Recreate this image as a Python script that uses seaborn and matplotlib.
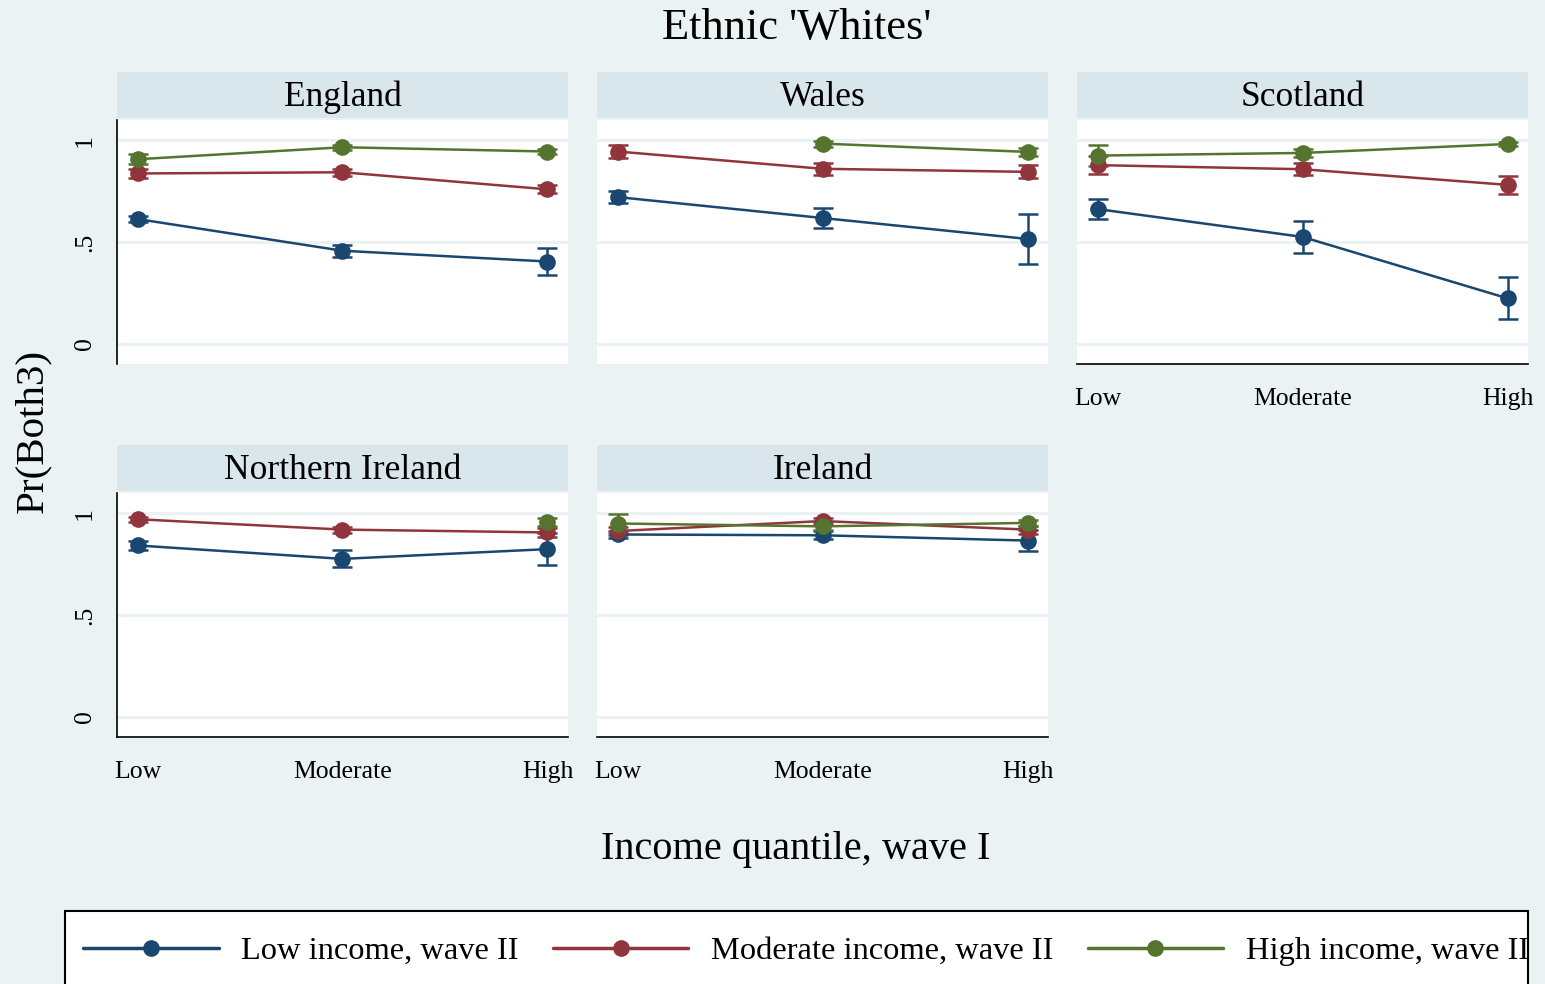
import matplotlib
matplotlib.use("Agg")
import matplotlib.pyplot as plt
from matplotlib.lines import Line2D
from matplotlib.patches import Rectangle
import numpy as np
import pandas as pd
import seaborn as sns

# data
levels = ["Low", "Moderate", "High"]
series = ["Low income, wave II", "Moderate income, wave II", "High income, wave II"]
regions = ["England", "Wales", "Scotland", "Northern Ireland", "Ireland"]

# point estimates: one row per series (low, moderate, high income wave II)
england_est = [[0.613, 0.457, 0.404], [0.837, 0.843, 0.759], [0.907, 0.966, 0.945]]
england_err = [[0.015, 0.030, 0.065], [0.020, 0.018, 0.020], [0.025, 0.012, 0.012]]
wales_est = [[0.721, 0.618, 0.515], [0.945, 0.860, 0.845], [np.nan, 0.984, 0.943]]
wales_err = [[0.030, 0.050, 0.125], [0.030, 0.030, 0.032], [np.nan, 0.015, 0.018]]
scotland_est = [[0.662, 0.525, 0.223], [0.878, 0.858, 0.781], [0.925, 0.938, 0.982]]
scotland_err = [[0.050, 0.080, 0.104], [0.044, 0.030, 0.046], [0.052, 0.020, 0.012]]
nireland_est = [[0.842, 0.776, 0.824], [0.971, 0.920, 0.906], [np.nan, np.nan, 0.958]]
nireland_err = [[0.020, 0.042, 0.077], [0.012, 0.015, 0.020], [np.nan, np.nan, 0.020]]
ireland_est = [[0.896, 0.892, 0.866], [0.913, 0.962, 0.920], [0.950, 0.936, 0.953]]
ireland_err = [[0.015, 0.020, 0.050], [0.020, 0.015, 0.020], [0.046, 0.020, 0.015]]

estimates = [england_est, wales_est, scotland_est, nireland_est, ireland_est]
errors = [england_err, wales_err, scotland_err, nireland_err, ireland_err]

rows = []
for reg, est, err in zip(regions, estimates, errors):
    for s, e_row, r_row in zip(series, est, err):
        for i, lev in enumerate(levels):
            rows.append({"region": reg, "series": s, "x": i, "est": e_row[i], "err": r_row[i]})
df = pd.DataFrame(rows).dropna()

BG = "#EAF2F3"
STRIP = "#D9E6EB"
GRID = "#EAF2F3"
colors = ["#1A476F", "#90353B", "#55752F"]
palette = dict(zip(series, colors))

sns.set_theme(style="white")
plt.rcParams["font.family"] = ["Liberation Serif", "DejaVu Serif"]
plt.rcParams["axes.linewidth"] = 1.2
plt.rcParams["text.color"] = "black"
plt.rcParams["xtick.color"] = "black"
plt.rcParams["ytick.color"] = "black"
plt.rcParams["xtick.labelcolor"] = "black"
plt.rcParams["ytick.labelcolor"] = "black"

W, H = 1545, 984
fig = plt.figure(figsize=(W / 100, H / 100), dpi=100, facecolor=BG)

col_left = [117, 597, 1077]
panel_w = 451
row_top = [120, 493]
panel_h = 244
strip_h = 46
# (row, col, show x axis)
layout = [(0, 0, False), (0, 1, False), (0, 2, True), (1, 0, True), (1, 1, True)]

for reg, (r, c, show_x) in zip(regions, layout):
    left = col_left[c] / W
    bottom = 1 - (row_top[r] + panel_h) / H
    ax = fig.add_axes([left, bottom, panel_w / W, panel_h / H])
    ax.set_facecolor("white")
    for yv in [0, 0.5, 1]:
        ax.axhline(yv, color=GRID, lw=2.2, zorder=0)

    sub = df[df["region"] == reg]
    for s in series:
        d = sub[sub["series"] == s]
        ax.errorbar(d["x"], d["est"], yerr=d["err"], fmt="none", ecolor=palette[s],
                    elinewidth=1.8, capsize=7, capthick=1.8, zorder=2)
    sns.lineplot(data=sub, x="x", y="est", hue="series", hue_order=series, palette=palette,
                 estimator=None, errorbar=None, marker="o", markersize=12, markeredgewidth=0,
                 linewidth=1.8, legend=False, ax=ax, zorder=3)

    ax.set_xlim(-0.1, 2.1)
    ax.set_ylim(-0.1, 1.1)
    ax.set_xlabel("")
    ax.set_ylabel("")
    for sp in ax.spines.values():
        sp.set_visible(False)
    ax.set_yticks([0, 0.5, 1])
    ax.set_yticklabels(["0", ".5", "1"])
    ax.set_xticks([0, 1, 2])
    ax.set_xticklabels(levels)
    ax.tick_params(axis="y", labelrotation=90, length=10, width=1.2, pad=5,
                   labelsize=18.5, color="black")
    ax.tick_params(axis="x", length=9, width=1.2, pad=8.5, labelsize=18.5, color="black")
    for lab in ax.get_yticklabels():
        lab.set_va("center")
    if c == 0:
        ax.spines["left"].set_visible(True)
        ax.spines["left"].set_color("black")
    else:
        ax.tick_params(axis="y", left=False, labelleft=False)
    if show_x:
        ax.spines["bottom"].set_visible(True)
        ax.spines["bottom"].set_color("black")
    else:
        ax.tick_params(axis="x", bottom=False, labelbottom=False)

    # strip title
    sax = fig.add_axes([left, 1 - (row_top[r] - 2) / H, panel_w / W, strip_h / H])
    sax.set_facecolor(STRIP)
    sax.set_xticks([])
    sax.set_yticks([])
    for sp in sax.spines.values():
        sp.set_visible(False)
    sax.text(0.5, 0.45, reg, ha="center", va="center", fontsize=25.5, transform=sax.transAxes)

fig.text(797 / W, 1 - 28 / H, "Ethnic 'Whites'", ha="center", va="center", fontsize=32)
fig.text(796 / W, 1 - 850 / H, "Income quantile, wave I", ha="center", va="center", fontsize=29)
fig.text(33 / W, 1 - 431 / H, "Pr(Both3)", ha="center", va="center", rotation=90, fontsize=29.5)

# legend box (cut off by the bottom edge, as in the reference)
fig.add_artist(Rectangle((65 / W, -0.05), (1528 - 65) / W, 0.05 + (984 - 911) / H,
                         transform=fig.transFigure, facecolor="white", edgecolor="black",
                         linewidth=1.5, zorder=0))
handles = [Line2D([], [], color=col, lw=2.5, marker="o", markersize=12, markeredgewidth=0)
           for col in colors]
fig.legend(handles, series, loc="center left", bbox_to_anchor=(83 / W, 1 - 951 / H), ncol=3,
           frameon=False, fontsize=23.4, handlelength=4.17, handletextpad=0.7,
           columnspacing=1.05, borderaxespad=0, borderpad=0)

fig.savefig("out.png", dpi=100, facecolor=BG)
